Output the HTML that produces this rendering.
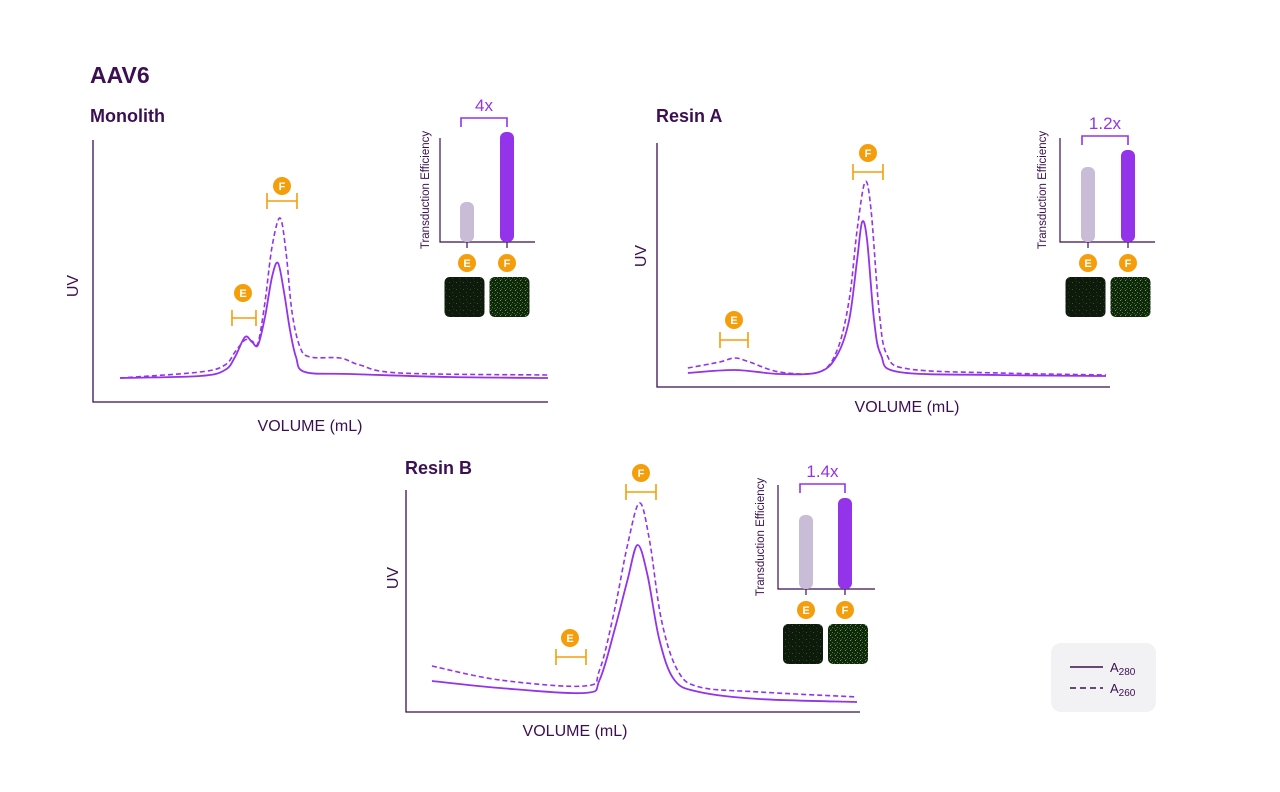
<!DOCTYPE html>
<html><head><meta charset="utf-8"><style>
body{margin:0;background:#fff;width:1280px;height:787px;overflow:hidden;font-family:"Liberation Sans",sans-serif}
</style></head><body>
<svg id="s" width="1280" height="787" xmlns="http://www.w3.org/2000/svg">
<defs>
<pattern id="gLow" width="7" height="7" patternUnits="userSpaceOnUse"><rect width="7" height="7" fill="#0e1a0c"/><rect x="1" y="2" width="1" height="1" fill="#2a5e20"/><rect x="4" y="5" width="1" height="1" fill="#1f4a18"/><rect x="5" y="1" width="1" height="1" fill="#19391a"/></pattern>
<pattern id="gHigh" width="5" height="5" patternUnits="userSpaceOnUse"><rect width="5" height="5" fill="#12260f"/><rect x="0" y="0" width="1" height="1" fill="#4fae33"/><rect x="2" y="2" width="1" height="1" fill="#3d8f28"/><rect x="4" y="3" width="1" height="1" fill="#2f7020"/><rect x="1" y="4" width="1" height="1" fill="#2a6220"/></pattern>
</defs>
<text x="90" y="83" font-size="23" font-weight="bold" fill="#3b0f52">AAV6</text>
</svg>
<script>
const PURPLE='#9333ea',DARK='#3b0f52',ORANGE='#f59e0b',BARE='#c8bcd6';
// ---- data ----
const monoVolSolid=[27,107,132,142,152,159,165,172,179,185,191,197,203,212,257,357,455];
const monoUvSolid=[24,26,32,45,65,60,57,85,125,139,110,72,45,30,28,25,24];
const monoVolDash=[27,107,132,142,152,159,165,172,179,187,193,199,207,217,247,267,307,455];
const monoUvDash=[24,30,37,50,62,61,59,100,155,184,150,90,55,45,44,37,29,27];
const resAVolSolid=[31,78,123,163,181,193,201,206,211,218,225,243,343,451];
const resAUvSolid=[14,17,13,15,32,67,127,165,147,67,32,15,12,11];
const resAVolDash=[31,63,78,93,123,163,181,193,201,209,215,223,231,253,343,451];
const resAUvDash=[19,25,29,25,15,15,37,87,157,205,177,77,32,18,14,12];
const resBVolSolid=[26,94,179,194,209,222,232,242,254,269,294,354,452];
const resBUvSolid=[31,24,19,32,82,132,167,137,72,32,20,13,10];
const resBVolDash=[26,94,179,194,209,222,234,244,256,272,294,354,452];
const resBUvDash=[46,32,26,42,102,167,209,172,92,42,25,20,15];
const barCats=['E','F'];
const monoBars=[40,110];
const resABars=[75,92];
const resBBars=[74,91];
const foldLabels=['4x','1.2x','1.4x'];
// ---- helpers ----
const S=document.getElementById('s');
function el(t,a,txt){const e=document.createElementNS('http://www.w3.org/2000/svg',t);for(const k in a)e.setAttribute(k,a[k]);if(txt!==undefined)e.textContent=txt;S.appendChild(e);return e;}
function smooth(pts){let d='M'+pts[0][0]+','+pts[0][1];for(let i=0;i<pts.length-1;i++){const p0=pts[i-1]||pts[i],p1=pts[i],p2=pts[i+1],p3=pts[i+2]||p2;const c1x=p1[0]+(p2[0]-p0[0])/6,c1y=p1[1]+(p2[1]-p0[1])/6,c2x=p2[0]-(p3[0]-p1[0])/6,c2y=p2[1]-(p3[1]-p1[1])/6;d+=` C${c1x},${c1y} ${c2x},${c2y} ${p2[0]},${p2[1]}`;}return d;}
function marker(cx,cy,bx1,bx2,by,lab,name){
 let e=el('path',{d:`M${bx1},${by-8}V${by+8}M${bx1},${by}H${bx2}M${bx2},${by-8}V${by+8}`,stroke:ORANGE,'stroke-width':1.6,fill:'none'});
 
 e=el('circle',{cx:cx,cy:cy,r:9,fill:ORANGE});
 
 e=el('text',{x:cx,y:cy+4,'text-anchor':'middle','font-size':11,'font-weight':'bold',fill:'#fff'},lab);
 
}
function panel(p){
 const xs=v=>p.x0+v*(p.x1-p.x0)/455, ys=v=>p.y0-v;
 let e=el('path',{d:`M${p.x0},${p.yTop}V${p.y0}H${p.x1}`,stroke:DARK,'stroke-width':1.3,fill:'none'});
 
 e=el('path',{d:smooth(p.vd.map((v,i)=>[xs(v),ys(p.ud[i])])),stroke:PURPLE,'stroke-width':1.6,fill:'none','stroke-dasharray':'5,3'});
 
 e=el('path',{d:smooth(p.vs.map((v,i)=>[xs(v),ys(p.us[i])])),stroke:PURPLE,'stroke-width':1.8,fill:'none'});
 
 e=el('text',{x:p.tx,y:p.ty,'font-size':18,'font-weight':'bold',fill:DARK},p.title);
 
 e=el('text',{x:p.uvx,y:p.uvy,'font-size':16,fill:DARK,transform:`rotate(-90 ${p.uvx} ${p.uvy})`,'text-anchor':'middle'},'UV');
 
 e=el('text',{x:p.vx,y:p.vy,'font-size':16,fill:DARK,'text-anchor':'middle'},'VOLUME (mL)');
 
 marker(p.E[0],p.E[1],p.E[2],p.E[3],p.E[4],'E',p.n+'-peak-e');
 marker(p.F[0],p.F[1],p.F[2],p.F[3],p.F[4],'F',p.n+'-peak-f');
 // inset bar chart
 const b=p.b, base=b.y;
 e=el('path',{d:`M${b.ax},${b.top}V${base}H${b.right}`,stroke:DARK,'stroke-width':1.2,fill:'none'});
 
 const ly=(b.top+base)/2;
 e=el('text',{x:b.lx,y:ly,'font-size':11.5,fill:DARK,'text-anchor':'middle',transform:`rotate(-90 ${b.lx} ${ly})`},'Transduction Efficiency');
 
 const bx=b.bx, mid=(bx[0]+bx[1])/2;
 p.bars.forEach((v,i)=>{
  e=el('rect',{x:bx[i]-7,y:base-v,width:14,height:v,rx:6,fill:i?PURPLE:BARE});
  
  e=el('line',{x1:bx[i],x2:bx[i],y1:base,y2:base+6,stroke:DARK,'stroke-width':1.2});
  
  e=el('circle',{cx:bx[i],cy:base+21,r:9,fill:ORANGE});
  
  e=el('text',{x:bx[i],y:base+25,'text-anchor':'middle','font-size':11,'font-weight':'bold',fill:'#fff'},barCats[i]);
  
  e=el('rect',{x:mid+(i?2.5:-42.5),y:base+35,width:40,height:40,rx:5,fill:i?'url(#gHigh)':'url(#gLow)'});
  
 });
 const by=base-Math.max(...p.bars)-14;
 e=el('path',{d:`M${bx[0]-6},${by+9}V${by}H${bx[1]}V${by+9}`,stroke:PURPLE,'stroke-width':1.6,fill:'none'});
 
 e=el('text',{x:mid-3,y:by-7,'text-anchor':'middle','font-size':17,fill:PURPLE},p.fold);
 
}
panel({n:'monolith',title:'Monolith',tx:90,ty:122,x0:93,x1:548,y0:402,yTop:140,vs:monoVolSolid,us:monoUvSolid,vd:monoVolDash,ud:monoUvDash,
 uvx:78,uvy:286,vx:310,vy:431,E:[243,293,232,256,318],F:[282,186,267,297,201],
 b:{ax:440,y:242,top:138,right:535,lx:429,bx:[467,507]},bars:monoBars,fold:foldLabels[0]});
panel({n:'resin-a',title:'Resin A',tx:656,ty:122,x0:657,x1:1110,y0:387,yTop:143,vs:resAVolSolid,us:resAUvSolid,vd:resAVolDash,ud:resAUvDash,
 uvx:646,uvy:256,vx:907,vy:412,E:[734,320,720,748,340],F:[868,153,853,883,172],
 b:{ax:1060,y:242,top:138,right:1155,lx:1046,bx:[1088,1128]},bars:resABars,fold:foldLabels[1]});
panel({n:'resin-b',title:'Resin B',tx:405,ty:474,x0:406,x1:860,y0:712,yTop:490,vs:resBVolSolid,us:resBUvSolid,vd:resBVolDash,ud:resBUvDash,
 uvx:398,uvy:578,vx:575,vy:736,E:[570,638,556,586,657],F:[641,473,626,656,492],
 b:{ax:778,y:589,top:485,right:875,lx:764,bx:[806,845]},bars:resBBars,fold:foldLabels[2]});
// legend
let e=el('rect',{x:1051,y:643,width:105,height:69,rx:10,fill:'#f2f2f4'});

e=el('line',{x1:1070,x2:1103,y1:667,y2:667,stroke:DARK,'stroke-width':1.5});

e=el('line',{x1:1070,x2:1103,y1:688,y2:688,stroke:DARK,'stroke-width':1.5,'stroke-dasharray':'6,4'});

e=el('text',{x:1110,y:672,'font-size':13,fill:DARK},'A');

e.appendChild(Object.assign(document.createElementNS('http://www.w3.org/2000/svg','tspan'),{textContent:'280'}));
e.lastChild.setAttribute('font-size','10');e.lastChild.setAttribute('dy','3');
e=el('text',{x:1110,y:693,'font-size':13,fill:DARK},'A');

e.appendChild(Object.assign(document.createElementNS('http://www.w3.org/2000/svg','tspan'),{textContent:'260'}));
e.lastChild.setAttribute('font-size','10');e.lastChild.setAttribute('dy','3');
</script>
</body></html>
